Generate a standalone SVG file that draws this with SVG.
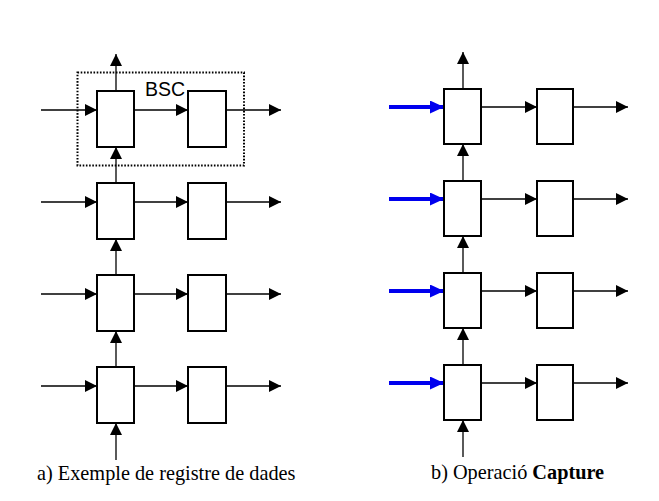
<svg xmlns="http://www.w3.org/2000/svg" width="659" height="501" viewBox="0 0 659 501">
<style>
.box{fill:#fff;stroke:#000;stroke-width:2}
.c{stroke:#000;stroke-width:1.3;fill:none;marker-end:url(#ah)}
.cb{stroke:#0000ee;stroke-width:4;fill:none;marker-end:url(#ahb)}
.lbl{font-family:"Liberation Serif","Times New Roman",serif;font-size:20.3px;fill:#000}
.bsc{font-family:"Liberation Sans",Arial,sans-serif;font-size:19.5px;fill:#000}
</style>
<defs>
<marker id="ah" markerUnits="userSpaceOnUse" markerWidth="12" markerHeight="12" refX="12" refY="6" orient="auto" viewBox="0 0 12 12"><path d="M0,0 L12,6 L0,12 z" fill="#000"/></marker>
<marker id="ahb" markerUnits="userSpaceOnUse" markerWidth="14" markerHeight="13" refX="14" refY="6.5" orient="auto" viewBox="0 0 14 13"><path d="M0,0 L14,6.5 L0,13 z" fill="#0000ee"/></marker>
</defs>
<rect width="659" height="501" fill="#fff"/>
<g id="bsc-frame">
<rect x="77.5" y="72.5" width="166.5" height="93" fill="none" stroke="#000" stroke-width="2" stroke-dasharray="1.6,1.6"/>
<text class="bsc" x="145" y="96">BSC</text>
</g>
<g id="connectors">
<line class="c" x1="116" y1="91" x2="116" y2="54"/>
<line class="c" x1="116" y1="183" x2="116" y2="147"/>
<line class="c" x1="116" y1="275" x2="116" y2="239"/>
<line class="c" x1="116" y1="367" x2="116" y2="331"/>
<line class="c" x1="116" y1="460" x2="116" y2="423"/>
<line class="c" x1="41" y1="110" x2="97" y2="110"/>
<line class="c" x1="134" y1="110" x2="188" y2="110"/>
<line class="c" x1="226" y1="110" x2="281" y2="110"/>
<line class="c" x1="41" y1="202" x2="97" y2="202"/>
<line class="c" x1="134" y1="202" x2="188" y2="202"/>
<line class="c" x1="226" y1="202" x2="281" y2="202"/>
<line class="c" x1="41" y1="294" x2="97" y2="294"/>
<line class="c" x1="134" y1="294" x2="188" y2="294"/>
<line class="c" x1="226" y1="294" x2="281" y2="294"/>
<line class="c" x1="41" y1="386" x2="97" y2="386"/>
<line class="c" x1="134" y1="386" x2="188" y2="386"/>
<line class="c" x1="226" y1="386" x2="281" y2="386"/>
<line class="c" x1="463" y1="89" x2="463" y2="52"/>
<line class="c" x1="463" y1="181" x2="463" y2="144"/>
<line class="c" x1="463" y1="273" x2="463" y2="236"/>
<line class="c" x1="463" y1="365" x2="463" y2="328"/>
<line class="c" x1="463" y1="457" x2="463" y2="420"/>
<line class="cb" x1="389" y1="107" x2="444" y2="107"/>
<line class="c" x1="481" y1="107" x2="537" y2="107"/>
<line class="c" x1="573" y1="107" x2="628" y2="107"/>
<line class="cb" x1="389" y1="199" x2="444" y2="199"/>
<line class="c" x1="481" y1="199" x2="537" y2="199"/>
<line class="c" x1="573" y1="199" x2="628" y2="199"/>
<line class="cb" x1="389" y1="291" x2="444" y2="291"/>
<line class="c" x1="481" y1="291" x2="537" y2="291"/>
<line class="c" x1="573" y1="291" x2="628" y2="291"/>
<line class="cb" x1="389" y1="383" x2="444" y2="383"/>
<line class="c" x1="481" y1="383" x2="537" y2="383"/>
<line class="c" x1="573" y1="383" x2="628" y2="383"/>
</g>
<g id="left-r1a"><rect class="box" x="97" y="91" width="37" height="56"/></g>
<g id="left-r1b"><rect class="box" x="188" y="91" width="38" height="56"/></g>
<g id="left-r2a"><rect class="box" x="97" y="183" width="37" height="56"/></g>
<g id="left-r2b"><rect class="box" x="188" y="183" width="38" height="56"/></g>
<g id="left-r3a"><rect class="box" x="97" y="275" width="37" height="56"/></g>
<g id="left-r3b"><rect class="box" x="188" y="275" width="38" height="56"/></g>
<g id="left-r4a"><rect class="box" x="97" y="367" width="37" height="56"/></g>
<g id="left-r4b"><rect class="box" x="188" y="367" width="38" height="56"/></g>
<g id="right-r1a"><rect class="box" x="444" y="89" width="37" height="55"/></g>
<g id="right-r1b"><rect class="box" x="537" y="89" width="36" height="55"/></g>
<g id="right-r2a"><rect class="box" x="444" y="181" width="37" height="55"/></g>
<g id="right-r2b"><rect class="box" x="537" y="181" width="36" height="55"/></g>
<g id="right-r3a"><rect class="box" x="444" y="273" width="37" height="55"/></g>
<g id="right-r3b"><rect class="box" x="537" y="273" width="36" height="55"/></g>
<g id="right-r4a"><rect class="box" x="444" y="365" width="37" height="55"/></g>
<g id="right-r4b"><rect class="box" x="537" y="365" width="36" height="55"/></g>
<g id="captions">
<text class="lbl" x="37" y="480">a) Exemple de registre de dades</text>
<text class="lbl" x="431" y="479">b) Operació <tspan font-weight="bold">Capture</tspan></text>
</g>
</svg>
